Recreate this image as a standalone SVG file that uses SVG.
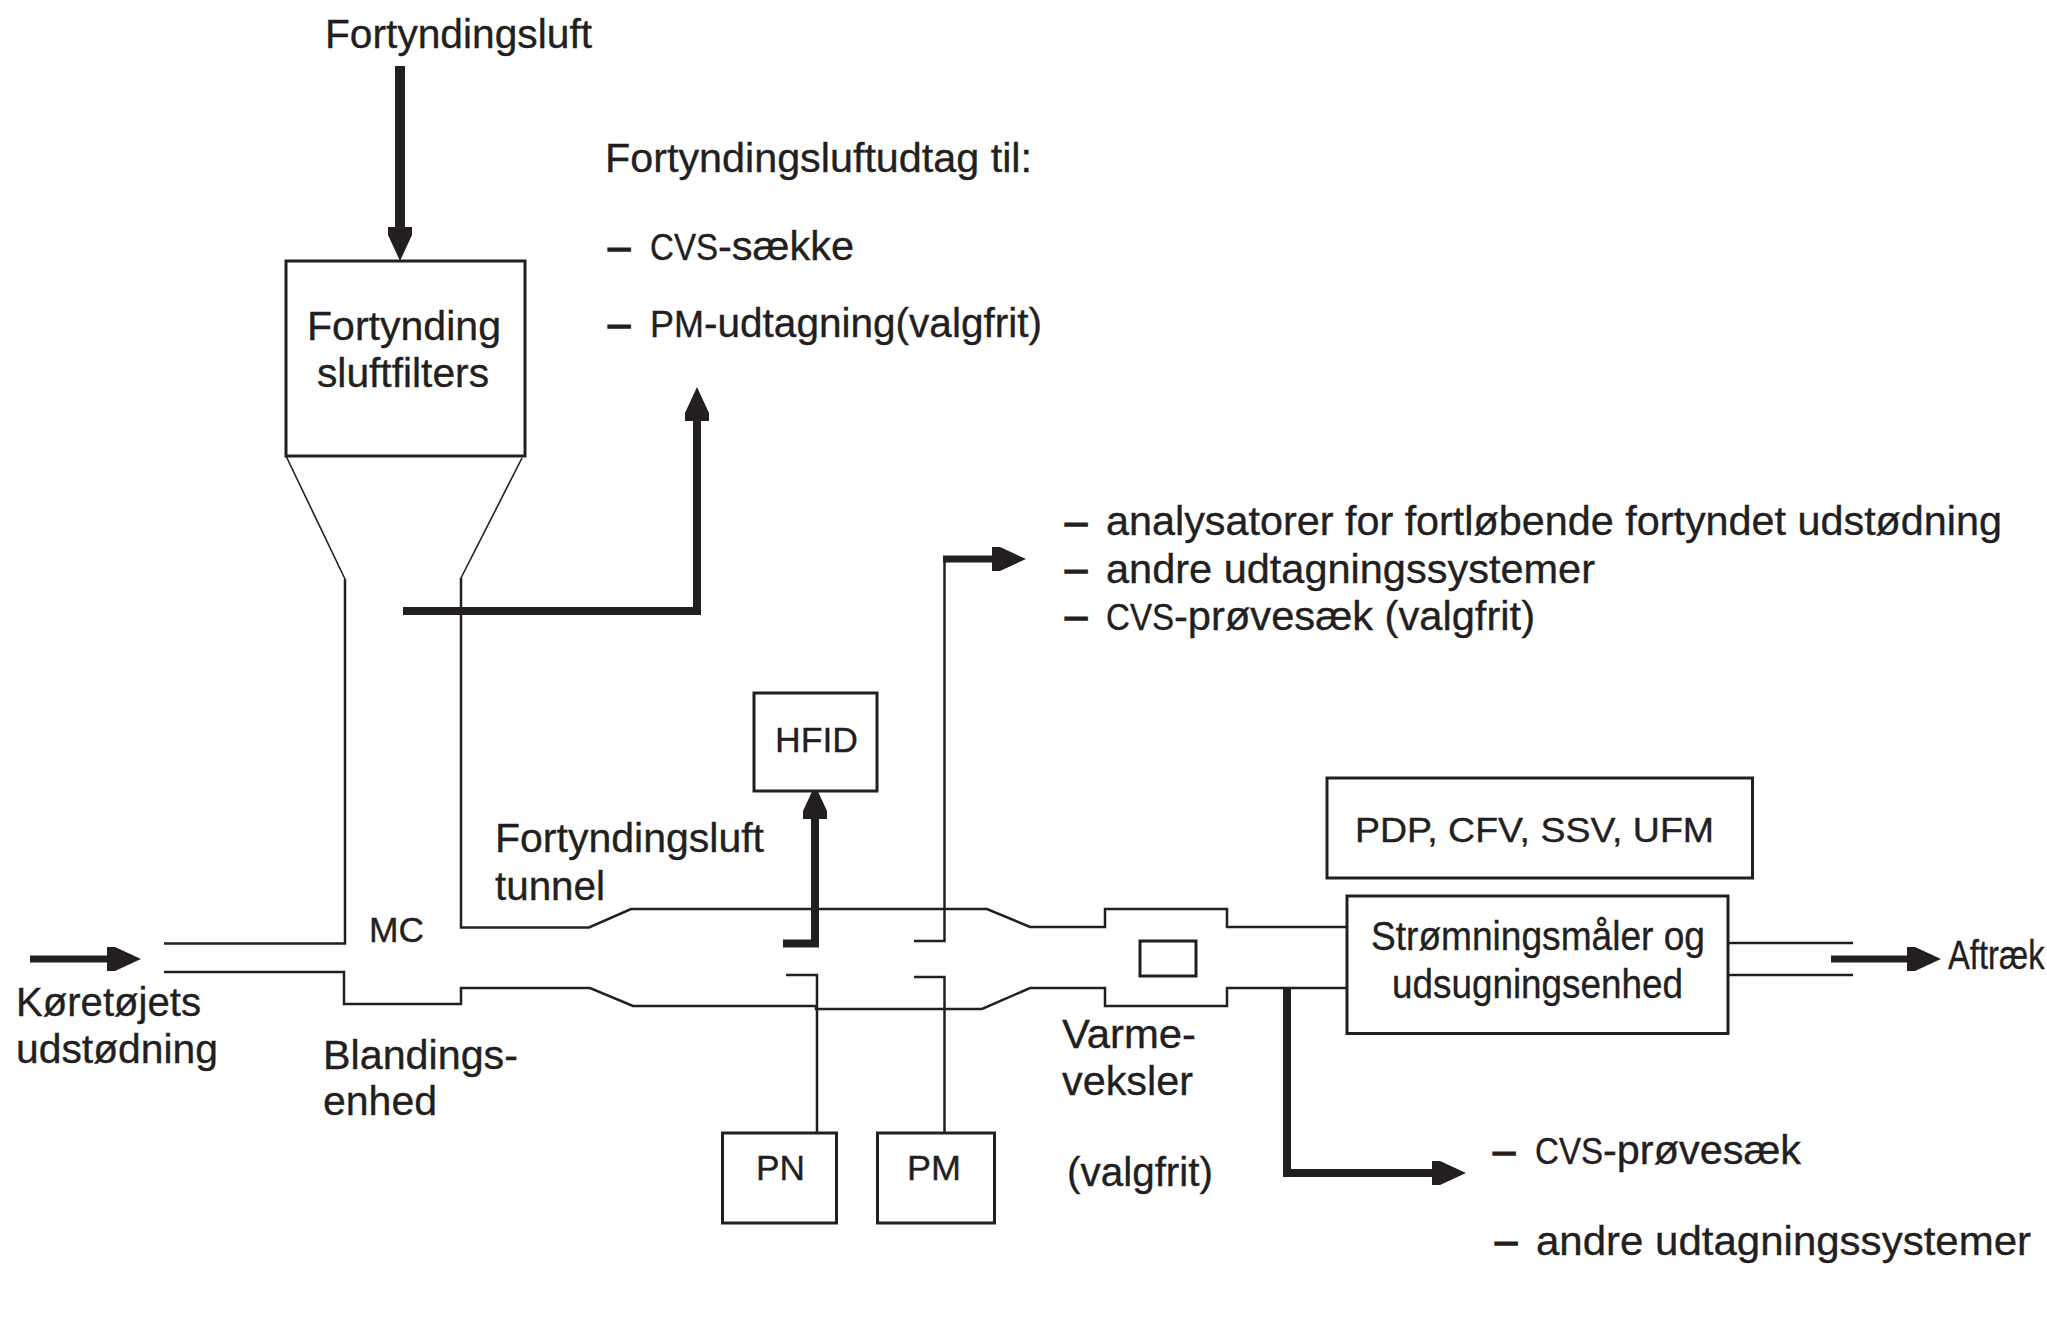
<svg xmlns="http://www.w3.org/2000/svg" width="2047" height="1332" viewBox="0 0 2047 1332">
  <style>
    text { font-family: "Liberation Sans", Arial, sans-serif; font-size: 40px; fill: #231f20; stroke: #231f20; stroke-width: 0.35px; }
    text.s { font-size: 35px; }
    text.dash { stroke-width: 1.4px; }
    tspan.caps { font-size: 36px; }
    .box { fill: #fff; stroke: #231f20; stroke-width: 3; }
    .pipe { fill: none; stroke: #231f20; stroke-width: 2.5; }
    .fine { fill: none; stroke: #231f20; stroke-width: 1.6; }
    .flow { fill: none; stroke: #231f20; stroke-width: 8; marker-end: url(#head); }
  </style>
  <defs>
    <marker id="head" markerUnits="userSpaceOnUse" viewBox="0 -13 35 26" refX="0" refY="0" markerWidth="35" markerHeight="26" orient="auto" overflow="visible">
      <path d="M0,-12 L8,-12 L34,0 L8,12 L0,12 Z" fill="#231f20"/>
    </marker>
  </defs>
  <rect width="2047" height="1332" fill="#fff"/>

  <g id="connectors">
    <!-- Funnel under the filter -->
    <path class="fine" d="M286,456 L345,579 M522,458 L461,578"/>
    <!-- Tunnel walls from the mixing section up to the flow meter -->
    <path class="pipe" d="M345,579 V943.5 H164"/>
    <path class="pipe" d="M461,578 V927.5 H589 L631,909 H987 L1030,927 H1105 V909 H1227 V927 H1350"/>
    <path class="pipe" d="M164,972 H344 V1004 H461 V988 H590 L633,1006 H816 V1009 H982 L1030,988 H1105 V1006 H1227 V988 H1350"/>
    <!-- Exhaust stack -->
    <path class="pipe" d="M1728,943 H1853 M1728,975 H1853"/>
    <!-- Sampling probes -->
    <path class="pipe" d="M786,975 H817 V1133 M914,977 H944.5 V1133 M914,941 H944.5 V559"/>
    <!-- Flow arrows -->
    <path class="flow" style="stroke-width:10" d="M400,66 V227"/>
    <path class="flow" d="M403,611 H697 V421"/>
    <path class="flow" style="stroke-width:7" d="M943,559 H992"/>
    <path class="flow" d="M783,943.5 H815 V819"/>
    <path class="flow" style="stroke-width:7" d="M30,959 H107"/>
    <path class="flow" style="stroke-width:7" d="M1831,959 H1907"/>
    <path class="flow" d="M1287,988 V1173 H1432"/>
  </g>

  <g id="filter">
    <rect class="box" x="286" y="261" width="239" height="195"/>
    <text x="307" y="339.5" textLength="194" lengthAdjust="spacingAndGlyphs">Fortynding</text>
    <text x="317" y="386.5" textLength="172" lengthAdjust="spacingAndGlyphs">sluftfilters</text>
  </g>
  <g id="hfid">
    <rect class="box" x="754" y="693" width="123" height="98"/>
    <text class="s" x="775" y="752" textLength="83" lengthAdjust="spacingAndGlyphs">HFID</text>
  </g>
  <g id="pn">
    <rect class="box" x="722.5" y="1133" width="114" height="90"/>
    <text class="s" x="756" y="1180" textLength="49" lengthAdjust="spacingAndGlyphs">PN</text>
  </g>
  <g id="pm">
    <rect class="box" x="877.5" y="1133" width="117" height="90"/>
    <text class="s" x="907" y="1180" textLength="54" lengthAdjust="spacingAndGlyphs">PM</text>
  </g>
  <g id="heat-exchanger">
    <rect class="box" x="1140" y="941" width="56" height="35"/>
  </g>
  <g id="pump-types">
    <rect class="box" x="1327" y="778" width="425.5" height="100"/>
    <text class="s" x="1355" y="842" textLength="359" lengthAdjust="spacingAndGlyphs">PDP, CFV, SSV, UFM</text>
  </g>
  <g id="flow-meter">
    <rect class="box" x="1347" y="896" width="381" height="137.5"/>
    <text x="1371" y="950" textLength="334" lengthAdjust="spacingAndGlyphs">Strømningsmåler og</text>
    <text x="1392" y="997.5" textLength="291" lengthAdjust="spacingAndGlyphs">udsugningsenhed</text>
  </g>

  <g id="labels">
    <text x="325" y="48" textLength="267" lengthAdjust="spacingAndGlyphs">Fortyndingsluft</text>
    <text x="605" y="172" textLength="427" lengthAdjust="spacingAndGlyphs">Fortyndingsluftudtag til:</text>
    <text class="dash" x="608" y="260">–</text>
    <text x="650" y="260"><tspan class="caps" textLength="68" lengthAdjust="spacingAndGlyphs">CVS</tspan><tspan textLength="136" lengthAdjust="spacingAndGlyphs">-sække</tspan></text>
    <text class="dash" x="608" y="337">–</text>
    <text x="650" y="337"><tspan class="caps" textLength="54" lengthAdjust="spacingAndGlyphs">PM</tspan><tspan textLength="338" lengthAdjust="spacingAndGlyphs">-udtagning(valgfrit)</tspan></text>

    <text class="dash" x="1065" y="535">–</text>
    <text x="1106" y="535" textLength="896" lengthAdjust="spacingAndGlyphs">analysatorer for fortløbende fortyndet udstødning</text>
    <text class="dash" x="1065" y="582">–</text>
    <text x="1106" y="582.5" textLength="489" lengthAdjust="spacingAndGlyphs">andre udtagningssystemer</text>
    <text class="dash" x="1065" y="629">–</text>
    <text x="1106" y="629.5"><tspan class="caps" textLength="68" lengthAdjust="spacingAndGlyphs">CVS</tspan><tspan textLength="361" lengthAdjust="spacingAndGlyphs">-prøvesæk (valgfrit)</tspan></text>

    <text x="495" y="852" textLength="269" lengthAdjust="spacingAndGlyphs">Fortyndingsluft</text>
    <text x="495" y="900" textLength="110" lengthAdjust="spacingAndGlyphs">tunnel</text>
    <text class="s" x="369" y="942" textLength="55" lengthAdjust="spacingAndGlyphs">MC</text>
    <text x="16" y="1016" textLength="185" lengthAdjust="spacingAndGlyphs">Køretøjets</text>
    <text x="16" y="1063" textLength="202" lengthAdjust="spacingAndGlyphs">udstødning</text>
    <text x="323" y="1068.5" textLength="195" lengthAdjust="spacingAndGlyphs">Blandings-</text>
    <text x="323" y="1115" textLength="114" lengthAdjust="spacingAndGlyphs">enhed</text>
    <text x="1062" y="1048" textLength="134" lengthAdjust="spacingAndGlyphs">Varme-</text>
    <text x="1062" y="1095" textLength="131" lengthAdjust="spacingAndGlyphs">veksler</text>
    <text x="1067" y="1186" textLength="146" lengthAdjust="spacingAndGlyphs">(valgfrit)</text>
    <text transform="translate(1948 968.5) scale(0.82 1)">Aftræk</text>

    <text class="dash" x="1493" y="1164">–</text>
    <text x="1535" y="1164"><tspan class="caps" textLength="68" lengthAdjust="spacingAndGlyphs">CVS</tspan><tspan textLength="198" lengthAdjust="spacingAndGlyphs">-prøvesæk</tspan></text>
    <text class="dash" x="1495" y="1254">–</text>
    <text x="1536" y="1255" textLength="495" lengthAdjust="spacingAndGlyphs">andre udtagningssystemer</text>
  </g>
</svg>
